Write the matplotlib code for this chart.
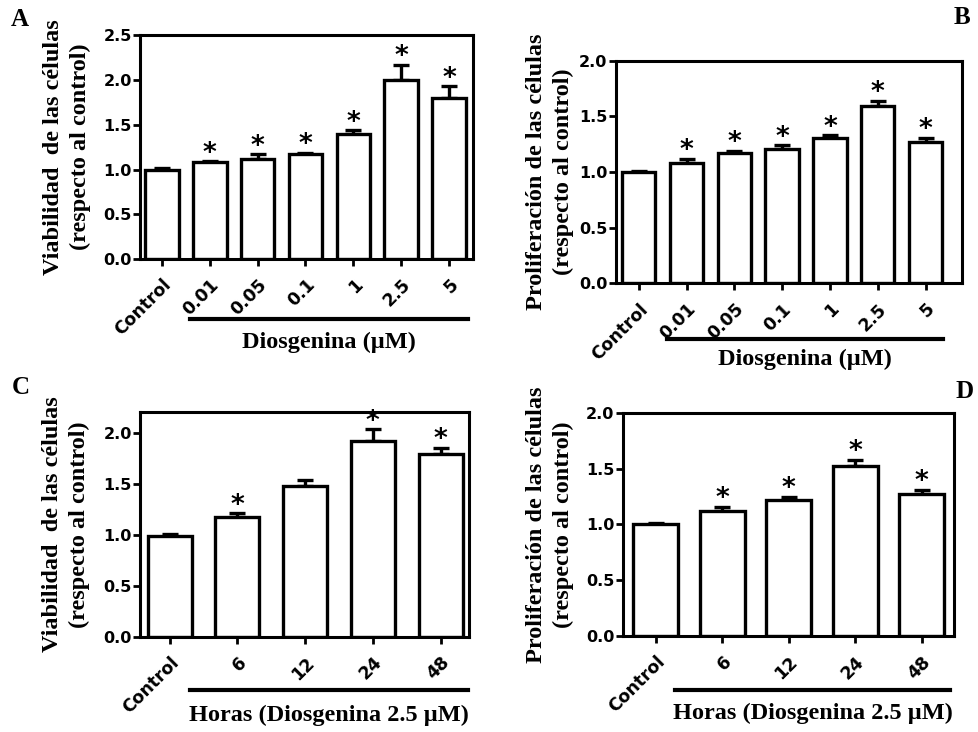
import matplotlib
matplotlib.use("Agg")
from matplotlib import pyplot as plt

# data
dose_labels = ['Control', '0.01', '0.05', '0.1', '1', '2.5', '5']
hour_labels = ['Control', '6', '12', '24', '48']

via_dose = [1.00, 1.08, 1.12, 1.17, 1.40, 2.00, 1.80]
via_dose_err = [0.02, 0.01, 0.05, 0.02, 0.04, 0.17, 0.13]
via_dose_star = [False, True, True, True, True, True, True]

pro_dose = [1.00, 1.08, 1.17, 1.21, 1.31, 1.59, 1.27]
pro_dose_err = [0.01, 0.04, 0.02, 0.03, 0.02, 0.05, 0.04]
pro_dose_star = [False, True, True, True, True, True, True]

via_hour = [0.99, 1.17, 1.48, 1.92, 1.79]
via_hour_err = [0.02, 0.04, 0.06, 0.11, 0.06]
via_hour_star = [False, True, False, True, True]

pro_hour = [1.00, 1.12, 1.22, 1.52, 1.27]
pro_hour_err = [0.01, 0.04, 0.03, 0.06, 0.04]
pro_hour_star = [False, True, True, True, True]

SERIF = 'Liberation Serif'
SANS = 'DejaVu Sans'

fig = plt.figure(figsize=(9.79, 7.32), dpi=100)


def panel(rect, labels, vals, errs, stars, ylim, yticks, xlim, width,
          ylabel, xlabel, line_x, line_y, label_y, lab_x):
    ax = fig.add_axes(rect)
    x = list(range(len(vals)))
    ax.bar(x, vals, width=width, color='white', edgecolor='black', linewidth=2.4, zorder=2)
    ax.errorbar(x, vals, yerr=[[0] * len(errs), errs], fmt='none', ecolor='black',
                elinewidth=2.4, capsize=6, capthick=2.4, zorder=1)
    for xi, v, e, s in zip(x, vals, errs, stars):
        if s:
            ax.annotate('*', (xi, v + e), xytext=(0, -4), textcoords='offset points',
                        ha='center', va='bottom', fontsize=19, fontweight='bold',
                        family=SANS)
    ax.set_xlim(*xlim)
    ax.set_ylim(*ylim)
    ax.set_yticks(yticks)
    ax.set_yticklabels(['%.1f' % t for t in yticks], family=SANS, fontweight='bold', fontsize=11.5)
    ax.set_xticks(x)
    ax.set_xticklabels(labels, rotation=45, ha='right', rotation_mode='anchor',
                       family=SANS, fontweight='bold', fontsize=12.5)
    ax.tick_params(width=2, length=5, pad=1)
    ax.tick_params(axis='x', pad=7)
    for sp in ax.spines.values():
        sp.set_linewidth(2.2)
    ax.set_ylabel(ylabel, family=SERIF, fontweight='bold', fontsize=17.5,
                  linespacing=1.4, va='center')
    ax.yaxis.set_label_coords((lab_x - rect[0] * 979) / (rect[2] * 979), 0.5)
    fig.add_artist(plt.Line2D([line_x[0] / 979, line_x[1] / 979],
                              [1 - line_y / 732, 1 - line_y / 732], color='black', lw=3))
    fig.text((line_x[0] + line_x[1]) / 2 / 979, 1 - label_y / 732, xlabel,
             family=SERIF, fontweight='bold', fontsize=17.5, ha='center', va='center')
    return ax


panel([0.143, 0.646, 0.340, 0.306], dose_labels, via_dose, via_dose_err, via_dose_star,
      (0, 2.5), [0, 0.5, 1.0, 1.5, 2.0, 2.5], (-0.46, 6.5), 0.7,
      'Viabilidad  de las células\n(respecto al control)', 'Diosgenina (µM)',
      (190, 468), 319, 342, 67)

panel([0.629, 0.613, 0.354, 0.304], dose_labels, pro_dose, pro_dose_err, pro_dose_star,
      (0, 2.0), [0, 0.5, 1.0, 1.5, 2.0], (-0.48, 6.77), 0.7,
      'Proliferación de las células\n(respecto al control)', 'Diosgenina (µM)',
      (667, 943), 339, 359, 550)

panel([0.143, 0.130, 0.336, 0.307], hour_labels, via_hour, via_hour_err, via_hour_star,
      (0, 2.2), [0, 0.5, 1.0, 1.5, 2.0], (-0.44, 4.42), 0.65,
      'Viabilidad  de las células\n(respecto al control)', 'Horas (Diosgenina 2.5 µM)',
      (190, 468), 690, 715, 66)

panel([0.636, 0.131, 0.338, 0.305], hour_labels, pro_hour, pro_hour_err, pro_hour_star,
      (0, 2.0), [0, 0.5, 1.0, 1.5, 2.0], (-0.5, 4.48), 0.68,
      'Proliferación de las células\n(respecto al control)', 'Horas (Diosgenina 2.5 µM)',
      (675, 950), 690, 713, 550)

for letter, xx, yy in [('A', 11, 20), ('B', 954, 18), ('C', 12, 388), ('D', 956, 391)]:
    fig.text(xx / 979, 1 - yy / 732, letter, family=SERIF, fontweight='bold',
             fontsize=18, ha='left', va='center')

fig.savefig('out.png', dpi=100)
